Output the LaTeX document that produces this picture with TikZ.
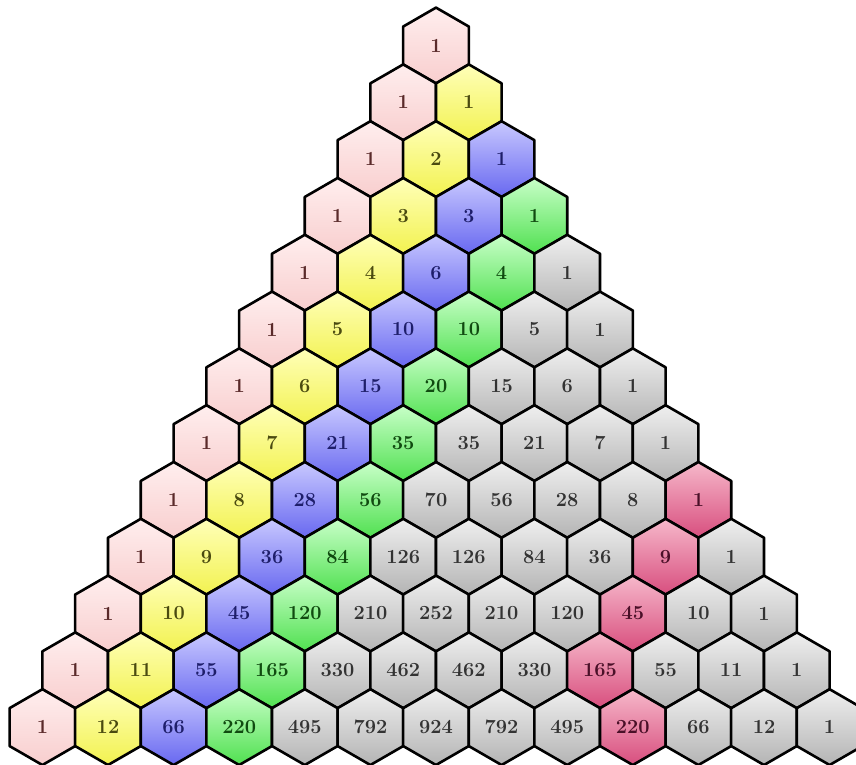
\documentclass[tikz,border=0pt]{standalone}
\usetikzlibrary{shapes.geometric}
\definecolor{pinkT}{HTML}{FFEEEE}
\definecolor{pinkB}{HTML}{F8CECE}
\definecolor{pinkX}{HTML}{5A2A2A}
\definecolor{yelT}{HTML}{FFFFB8}
\definecolor{yelB}{HTML}{F2F250}
\definecolor{yelX}{HTML}{4A4A10}
\definecolor{bluT}{HTML}{C8C8FF}
\definecolor{bluB}{HTML}{6868F0}
\definecolor{bluX}{HTML}{1E1E6A}
\definecolor{grnT}{HTML}{C8FFC8}
\definecolor{grnB}{HTML}{50E050}
\definecolor{grnX}{HTML}{104A10}
\definecolor{gryT}{HTML}{EFEFEF}
\definecolor{gryB}{HTML}{B4B4B4}
\definecolor{gryX}{HTML}{333333}
\definecolor{rosT}{HTML}{F6B8CA}
\definecolor{rosB}{HTML}{D84E7E}
\definecolor{rosX}{HTML}{4A1028}
\tikzset{
  hexcell/.style={regular polygon, regular polygon sides=6, shape border rotate=30,
    minimum size=75.8pt, inner sep=0pt, outer sep=0pt, draw=black, line width=2.6pt,
    line join=round, font=\fontsize{20}{20}\selectfont\bfseries},
  c0/.style={hexcell, top color=pinkT, bottom color=pinkB, text=pinkX},
  c1/.style={hexcell, top color=yelT, bottom color=yelB, text=yelX},
  c2/.style={hexcell, top color=bluT, bottom color=bluB, text=bluX},
  c3/.style={hexcell, top color=grnT, bottom color=grnB, text=grnX},
  cg/.style={hexcell, top color=gryT, bottom color=gryB, text=gryX},
  cr/.style={hexcell, top color=rosT, bottom color=rosB, text=rosX}
}
\begin{document}
\begin{tikzpicture}[x=1pt,y=-1pt]
\useasboundingbox (0,0) rectangle (856,764);
\clip (0,0) rectangle (856,764);
\fill[white] (0,0) rectangle (856,764);
\foreach \n/\vals in {
  0/{1},
  1/{1,1},
  2/{1,2,1},
  3/{1,3,3,1},
  4/{1,4,6,4,1},
  5/{1,5,10,10,5,1},
  6/{1,6,15,20,15,6,1},
  7/{1,7,21,35,35,21,7,1},
  8/{1,8,28,56,70,56,28,8,1},
  9/{1,9,36,84,126,126,84,36,9,1},
  10/{1,10,45,120,210,252,210,120,45,10,1},
  11/{1,11,55,165,330,462,462,330,165,55,11,1},
  12/{1,12,66,220,495,792,924,792,495,220,66,12,1}} {
  \foreach \v [count=\kk from 0] in \vals {
    \def\sty{cg}
    \ifnum\kk=0 \def\sty{c0}\fi
    \ifnum\kk=1 \def\sty{c1}\fi
    \ifnum\kk=2 \def\sty{c2}\fi
    \ifnum\kk=3 \def\sty{c3}\fi
    \ifnum\n<12 \ifnum\kk=8 \def\sty{cr}\fi\fi
    \ifnum\n=12 \ifnum\kk=9 \def\sty{cr}\fi\fi
    \pgfmathsetmacro\xx{436+(\kk-\n/2)*65.6}
    \pgfmathsetmacro\yy{45.5+\n*56.8}
    \node[\sty] (h-\n-\kk) at (\xx,\yy) {\v};
  }
}
\end{tikzpicture}
\end{document}
